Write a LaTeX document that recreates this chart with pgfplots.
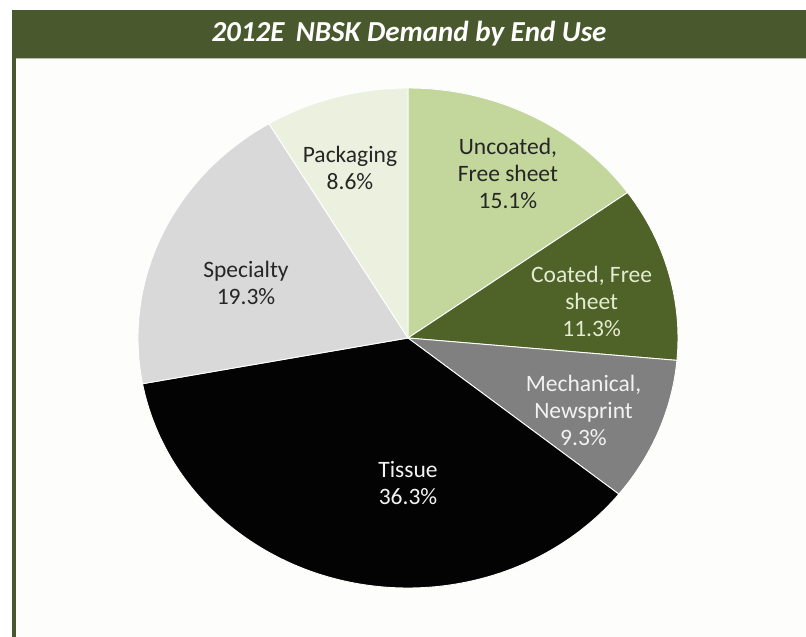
\documentclass[border=0pt]{standalone}
\usepackage{pgfplots}
\pgfplotsset{compat=1.18}
\usepackage{pgfplotstable}
\usepackage{fontspec}
\setmainfont{Carlito}
\definecolor{barg}{RGB}{73,89,45}
\definecolor{cUnc}{RGB}{195,214,155}
\definecolor{cCoa}{RGB}{79,98,40}
\definecolor{cMec}{RGB}{128,128,128}
\definecolor{cTis}{RGB}{3,3,3}
\definecolor{cSpe}{RGB}{217,217,217}
\definecolor{cPac}{RGB}{235,241,222}
\definecolor{tdark}{RGB}{38,38,38}
\definecolor{tlite}{RGB}{242,242,242}
\definecolor{tgrn}{RGB}{228,236,210}
\definecolor{panel}{RGB}{253,253,251}

\pgfplotstableread[col sep=semicolon]{
label;value;fillc;textc;lx;ly
{Uncoated,\\Free sheet};15.1;cUnc;tdark;0.37;0.66
{Coated, Free\\sheet};11.3;cCoa;tgrn;0.68;0.145
{Mechanical,\\Newsprint};9.3;cMec;tlite;0.65;-0.29
{Tissue};36.3;cTis;tlite;0.0;-0.58
{Specialty};19.3;cSpe;tdark;-0.60;0.22
{Packaging};8.6;cPac;tdark;-0.215;0.68
}\piedata

\pgfplotstablegetrowsof{\piedata}
\pgfmathtruncatemacro\N{\pgfplotsretval-1}
\def\total{0}
\pgfplotsforeachungrouped \i in {0,...,\N}{%
  \pgfplotstablegetelem{\i}{value}\of\piedata
  \pgfmathsetmacro\total{\total+\pgfplotsretval}%
}
\pgfmathsetmacro\degper{360/\total}

\begin{document}
\begin{tikzpicture}[x=1pt,y=1pt]
\useasboundingbox (0,0) rectangle (806,637);
\fill[white] (0,0) rectangle (806,637);
\fill[panel] (16,0) rectangle (806,579);
\fill[barg] (12,579) rectangle (806,627);
\fill[barg] (12,0) rectangle (16,579);
\draw[barg!40!white, line width=0.8pt] (16,578.6) -- (806,578.6);
\node[text=white, font=\fontsize{29}{33}\selectfont\bfseries\itshape] at (409,603) {2012E\, NBSK Demand by End Use};
\begin{axis}[at={(408pt,299pt)}, anchor=center, scale only axis,
  width=540pt, height=500pt, xmin=-1, xmax=1, ymin=-1, ymax=1,
  hide axis, clip=false]
\def\cum{0}
\pgfplotsforeachungrouped \i in {0,...,\N}{%
  \pgfplotstablegetelem{\i}{value}\of\piedata \let\v\pgfplotsretval
  \pgfplotstablegetelem{\i}{fillc}\of\piedata \let\fc\pgfplotsretval
  \pgfmathsetmacro\a{90-\degper*\cum}%
  \pgfmathsetmacro\b{90-\degper*(\cum+\v)}%
  \pgfmathsetmacro\ca{cos(\a)}%
  \pgfmathsetmacro\sa{sin(\a)}%
  \edef\temp{\noexpand\fill[\fc, draw=white, line width=0.9pt, line join=round] (axis cs:0,0) -- (axis cs:\ca,\sa) arc[start angle=\a, end angle=\b, x radius=270pt, y radius=250pt] -- cycle;}%
  \temp
  \pgfmathsetmacro\cum{\cum+\v}%
}
\pgfplotsforeachungrouped \i in {0,...,\N}{%
  \pgfplotstablegetelem{\i}{value}\of\piedata \let\v\pgfplotsretval
  \pgfplotstablegetelem{\i}{label}\of\piedata \let\lab\pgfplotsretval
  \pgfplotstablegetelem{\i}{textc}\of\piedata \let\tc\pgfplotsretval
  \pgfplotstablegetelem{\i}{lx}\of\piedata \let\lx\pgfplotsretval
  \pgfplotstablegetelem{\i}{ly}\of\piedata \let\ly\pgfplotsretval
  \edef\temp{\noexpand\node[text=\tc, align=center, font=\noexpand\fontsize{23.5}{27}\noexpand\selectfont] at (axis cs:\lx,\ly) {\unexpanded\expandafter{\lab}\noexpand\\\v\noexpand\%};}%
  \temp
}
\end{axis}
\end{tikzpicture}
\end{document}
